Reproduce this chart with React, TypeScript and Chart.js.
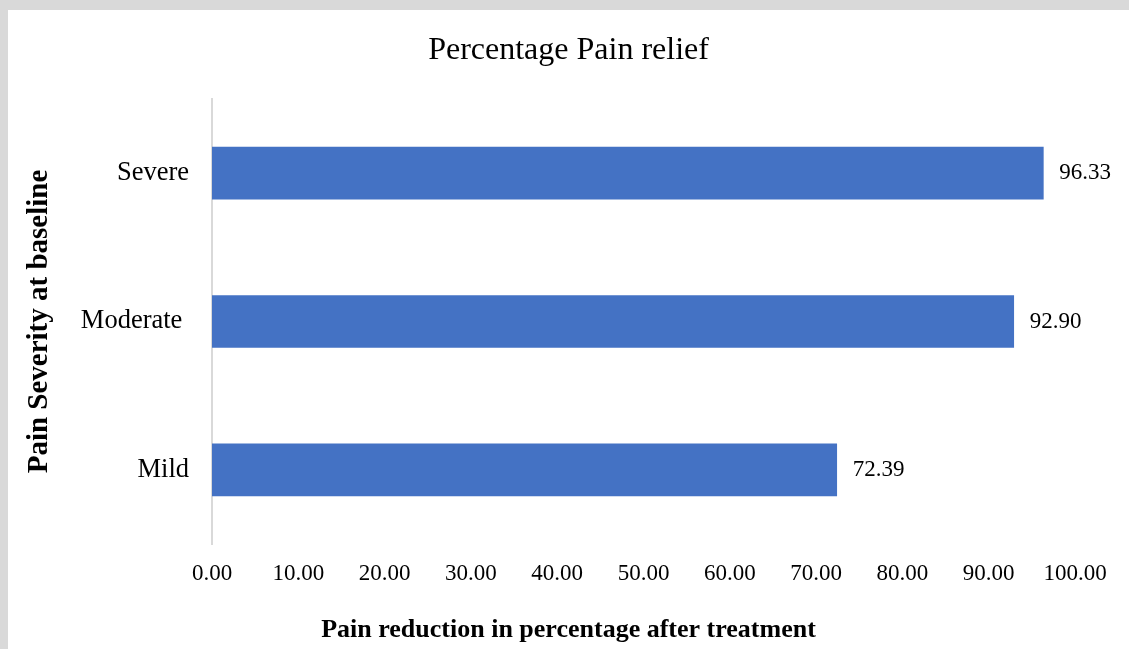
import React, { useEffect, useRef } from "react";
import { Chart, registerables } from "chart.js";

Chart.register(...registerables);

const categories: string[] = ["Severe", "Moderate ", "Mild"];
const reliefValues: number[] = [96.33, 92.9, 72.39];
const chartTitle = "Percentage Pain relief";
const xAxisTitle = "Pain reduction in percentage after treatment";
const yAxisTitle = "Pain Severity at baseline";

const FONT = '"Liberation Serif", "Times New Roman", serif';

const valueLabels = {
  id: "valueLabels",
  afterDatasetsDraw(chart: any) {
    const { ctx } = chart;
    const meta = chart.getDatasetMeta(0);
    ctx.save();
    ctx.font = `23px ${FONT}`;
    ctx.fillStyle = "#000000";
    ctx.textAlign = "left";
    ctx.textBaseline = "middle";
    meta.data.forEach((bar: any, i: number) => {
      ctx.fillText(reliefValues[i].toFixed(2), bar.x + 16, bar.y);
    });
    ctx.restore();
  },
};

export default function App() {
  const canvasRef = useRef<HTMLCanvasElement | null>(null);

  useEffect(() => {
    if (!canvasRef.current) return;
    const chart = new Chart(canvasRef.current, {
      type: "bar",
      data: {
        labels: categories,
        datasets: [
          {
            data: reliefValues,
            backgroundColor: "#4472C4",
            borderWidth: 0,
            barThickness: 52,
          },
        ],
      },
      options: {
        indexAxis: "y",
        responsive: false,
        animation: false,
        layout: { padding: 0 },
        plugins: {
          legend: { display: false },
          tooltip: { enabled: false },
          title: {
            display: true,
            text: chartTitle,
            color: "#000000",
            font: { family: FONT, size: 32, weight: "normal" },
            padding: { top: 21, bottom: 29.6 },
          },
          subtitle: {
            display: true,
            position: "bottom",
            text: xAxisTitle,
            color: "#000000",
            font: { family: FONT, size: 26, weight: "bold" },
            padding: { top: 0, bottom: 3.4 },
          },
        },
        scales: {
          x: {
            min: 0,
            max: 100,
            grid: { display: false, drawTicks: false },
            border: { display: false },
            ticks: {
              stepSize: 10,
              color: "#000000",
              font: { family: FONT, size: 23 },
              padding: 16,
              maxRotation: 0,
              callback: (v: any) => Number(v).toFixed(2),
            },
            afterFit: (s: any) => {
              s.height = 70.4;
            },
          },
          y: {
            grid: { display: false, drawTicks: false },
            border: { display: true, color: "#d9d9d9", width: 2 },
            ticks: {
              color: "#000000",
              font: { family: FONT, size: 26.5 },
              padding: 23,
            },
            title: {
              display: true,
              text: yAxisTitle,
              color: "#000000",
              font: { family: FONT, size: 29, weight: "bold" },
              padding: { top: 14.6, bottom: 0 },
            },
            afterFit: (s: any) => {
              s.width = 204;
            },
          },
          yRight: {
            type: "linear",
            axis: "y",
            position: "right",
            display: true,
            grid: { display: false, drawTicks: false },
            border: { display: false },
            ticks: { display: false },
            afterFit: (s: any) => {
              s.width = 54;
            },
          },
        },
      },
      plugins: [valueLabels],
    } as any);
    return () => chart.destroy();
  }, []);

  return (
    <div
      style={{
        position: "fixed",
        left: 0,
        top: 0,
        width: 1129,
        height: 649,
        background: "#d9d9d9",
      }}
    >
      <div
        style={{
          position: "absolute",
          left: 8,
          top: 10,
          width: 1121,
          height: 639,
          background: "#ffffff",
        }}
      >
        <canvas ref={canvasRef} width={1121} height={639} style={{ display: "block" }} />
      </div>
    </div>
  );
}
